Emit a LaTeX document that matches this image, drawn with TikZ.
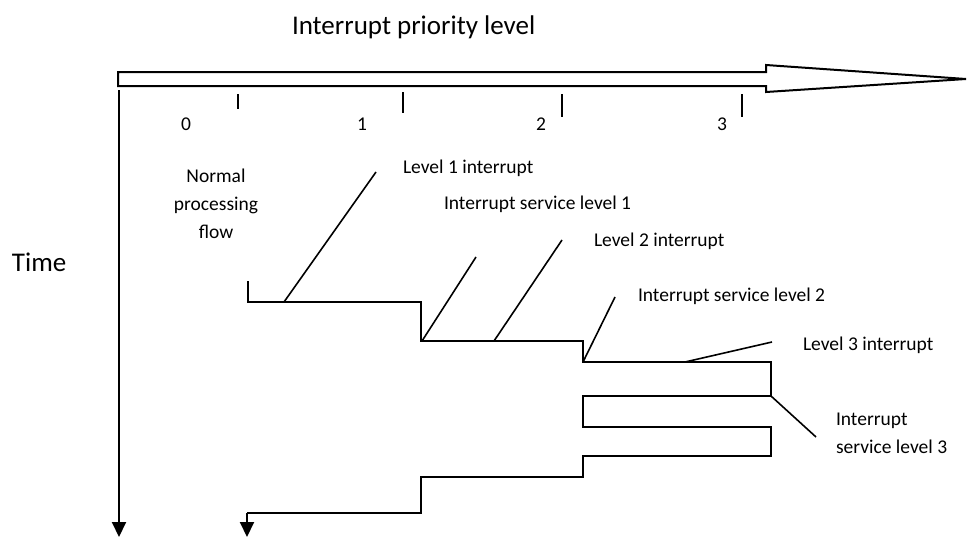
\documentclass[tikz,border=0pt]{standalone}
\usepackage{fontspec}
\setmainfont{Carlito}
\usetikzlibrary{arrows.meta}
\begin{document}
\begin{tikzpicture}[x=1pt,y=-1pt,line width=2pt,
  lbl/.style={inner sep=0pt,font=\fontsize{19.5}{28}\selectfont},
  big/.style={inner sep=0pt,font=\fontsize{27}{32}\selectfont},
  flowline/.style={line width=2pt,line join=miter},
  leader/.style={line width=1.6pt},
  tickmark/.style={line width=1.8pt},
  downtip/.style={-{Triangle[length=15pt,width=14pt]}}]
\useasboundingbox (0,0) rectangle (968,538);

% title and axis
\node[big,anchor=base west] (title) at (291,34) {Interrupt priority level};
\draw[line width=2pt,line join=miter]
  (118,72) -- (766,72) -- (766,65) -- (966,79) -- (766,92) -- (766,86) -- (118,86) -- cycle;
\draw[tickmark] (238,94) -- (238,109);
\draw[tickmark] (403,92) -- (403,113);
\draw[tickmark] (562,94) -- (562,117);
\draw[tickmark] (742,94) -- (742,117);
\node[lbl,anchor=base] (d0) at (186,130) {0};
\node[lbl,anchor=base] (d1) at (362,130) {1};
\node[lbl,anchor=base] (d2) at (541,130) {2};
\node[lbl,anchor=base] (d3) at (722,130) {3};

% time axis
\coordinate (ttop) at (119,90);
\coordinate (tbot) at (119,537);
\draw[downtip] (ttop) -- (tbot);
\node[big,anchor=base west] (time) at (11,271) {Time};

% processing flow
\coordinate (p0) at (248,281);
\coordinate (p1) at (248,302);
\coordinate (p2) at (421,302);
\coordinate (p3) at (421,341);
\coordinate (p4) at (583,341);
\coordinate (p5) at (583,362);
\coordinate (p6) at (771,362);
\coordinate (p7) at (771,396);
\coordinate (p8) at (583,396);
\coordinate (p9) at (583,427);
\coordinate (p10) at (771,427);
\coordinate (p11) at (771,456);
\coordinate (p12) at (583,456);
\coordinate (p13) at (583,477);
\coordinate (p14) at (421,477);
\coordinate (p15) at (421,513);
\coordinate (p16) at (247,513);
\coordinate (pend) at (247,537);
\draw[flowline] (p0) -- (p1) -- (p2) -- (p3) -- (p4) -- (p5) -- (p6) -- (p7) -- (p8)
  -- (p9) -- (p10) -- (p11) -- (p12) -- (p13) -- (p14) -- (p15) -- (p16);
\draw[flowline,downtip] (p16) -- (pend);

% labels
\node[lbl,align=center] (normal) at (216,204) {Normal\\processing\\flow};
\node[lbl,anchor=base west] (l1) at (402,173.5) {Level 1 interrupt};
\node[lbl,anchor=base west] (isl1) at (443,209.5) {Interrupt service level 1};
\node[lbl,anchor=base west] (l2) at (593,246.5) {Level 2 interrupt};
\node[lbl,anchor=base west] (isl2) at (637,301.5) {Interrupt service level 2};
\node[lbl,anchor=base west] (l3) at (802,350.5) {Level 3 interrupt};
\node[lbl,anchor=west,align=left] (isl3) at (835,433) {Interrupt\\service level 3};

% leader lines
\coordinate (a1) at (284,302);  \coordinate (b1) at (376,172);
\coordinate (a2) at (422,341);  \coordinate (b2) at (476,257);
\coordinate (a3) at (494,341);  \coordinate (b3) at (562,240);
\coordinate (a4) at (583,362);  \coordinate (b4) at (615,297);
\coordinate (a5) at (685,362);  \coordinate (b5) at (772,342);
\coordinate (a6) at (771,396);  \coordinate (b6) at (816,437);
\draw[leader] (a1) -- (b1);
\draw[leader] (a2) -- (b2);
\draw[leader] (a3) -- (b3);
\draw[leader] (a4) -- (b4);
\draw[leader] (a5) -- (b5);
\draw[leader] (a6) -- (b6);
\end{tikzpicture}
\end{document}
